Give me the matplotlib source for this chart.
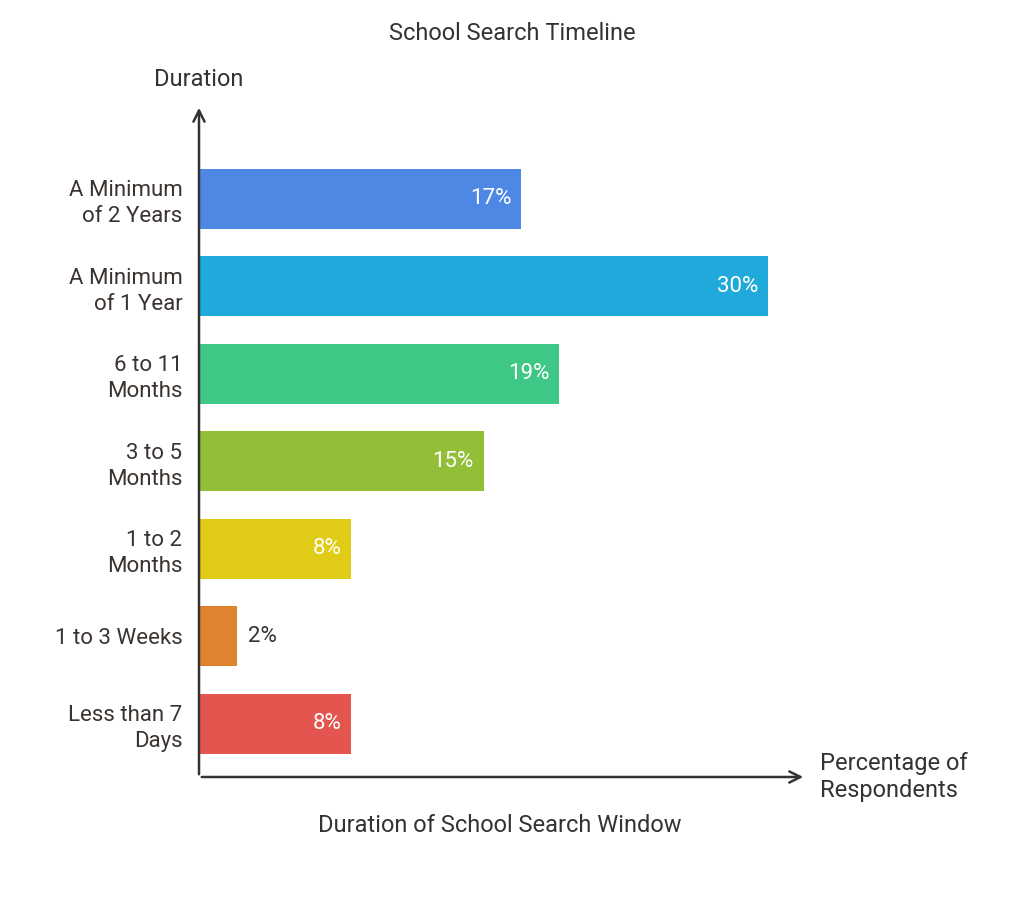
import matplotlib
matplotlib.use("Agg")
import matplotlib.pyplot as plt

categories = ["A Minimum\nof 2 Years", "A Minimum\nof 1 Year", "6 to 11\nMonths", "3 to 5\nMonths",
              "1 to 2\nMonths", "1 to 3 Weeks", "Less than 7\nDays"]
values = [17, 30, 19, 15, 8, 2, 8]
labels = ["17%", "30%", "19%", "15%", "8%", "2%", "8%"]
colors = ["#4E88E5", "#20AADB", "#3EC785", "#92BE38", "#E0CB16", "#E0832F", "#E5554F"]

plt.rcParams["font.family"] = "Roboto"
fig = plt.figure(figsize=(10.24, 9.06), dpi=100)
ax = fig.add_axes([199/1024, 129/906, 607/1024, 672/906])
ys = list(range(len(categories)))
ax.barh(ys, values, height=0.686, color=colors)
for y, v, l in zip(ys, values, labels):
    if v >= 5:
        ax.text(v - 0.5, y, l, ha="right", va="center", color="white", fontsize=16)
    else:
        ax.text(v + 0.6, y, l, ha="left", va="center", color="#333333", fontsize=16)
ax.set_yticks(ys)
ax.set_yticklabels(categories, fontsize=16, color="#3a3330", ha="right", linespacing=1.3)
ax.tick_params(axis="y", length=0, pad=12)
ax.set_xticks([])
ax.set_xlim(0, 32)
ax.set_ylim(6.606, -1.074)
for s in ["top", "right", "left", "bottom"]:
    ax.spines[s].set_visible(False)
ax.annotate("", xy=(1, 0), xytext=(0, 0), xycoords="axes fraction",
            arrowprops=dict(arrowstyle="->", color="#333333", lw=1.8, mutation_scale=20))
ax.annotate("", xy=(0, 1), xytext=(0, 0), xycoords="axes fraction",
            arrowprops=dict(arrowstyle="->", color="#333333", lw=1.8, mutation_scale=20))
fig.text(512/1024, 1 - 33/906, "School Search Timeline", ha="center", va="center", fontsize=17, color="#333333")
fig.text(199/1024, 1 - 80/906, "Duration", ha="center", va="center", fontsize=17, color="#333333")
fig.text(820/1024, 1 - 777/906, "Percentage of\nRespondents", ha="left", va="center", fontsize=17, color="#333333", linespacing=1.2)
fig.text(500/1024, 1 - 825/906, "Duration of School Search Window", ha="center", va="center", fontsize=17, color="#333333")
fig.savefig("out.png", dpi=100, facecolor="white")
